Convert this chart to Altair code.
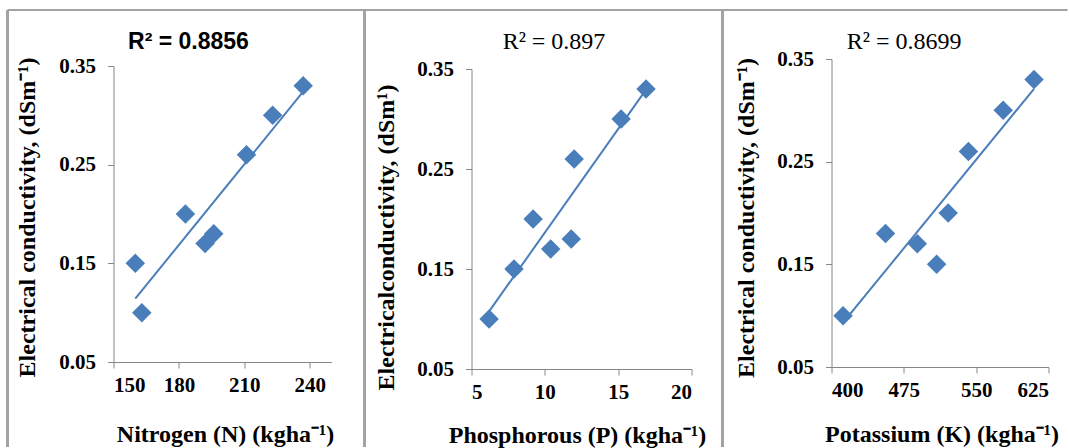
import altair as alt
import pandas as pd

# ---- data ----
ec_values = [0.10, 0.15, 0.17, 0.18, 0.20, 0.26, 0.30, 0.33]
nitrogen = [163, 160, 192, 196, 183, 211, 223, 237]
phosphorous = [6.2, 7.9, 10.4, 11.8, 9.2, 12.0, 15.2, 16.9]
potassium = [412, 509, 489, 456, 521, 542, 578, 610]

y_ticks = [0.05, 0.15, 0.25, 0.35]
n_ticks = [150, 180, 210, 240]
p_ticks = [5, 10, 15, 20]
k_ticks = [400, 475, 550, 625]

r2_labels = ["R² = 0.8856", "R² = 0.897", "R² = 0.8699"]
x_titles = ["Nitrogen (N) (kgha⁻¹)", "Phosphorous (P) (kgha⁻¹)", "Potassium (K) (kgha⁻¹)"]
y_titles = ["Electrical conductivity, (dSm⁻¹)", "Electricalconductivity, (dSm¹)",
            "Electrical conductivity, (dSm⁻¹)"]

df = pd.DataFrame({"ec": ec_values, "N": nitrogen, "P": phosphorous, "K": potassium})
one = pd.DataFrame({"k": [0]})

BLUE = "#4A7EBB"
FRAME = "#a3a3a3"
SERIF = "Liberation Serif"
H = 303


def panel(col, ticks, domain, width, yrange, xoff, xtitle, ytitle, ytx, yty, xtx, xty,
          r2, r2x, r2font, r2weight, r2size, extra=()):
    xenc = alt.X(f"{col}:Q",
                 scale=alt.Scale(domain=domain, nice=False, zero=False),
                 axis=alt.Axis(values=ticks, title=xtitle, offset=xoff, titleX=xtx, titleY=xty,
                               titleBaseline="alphabetic", format="d"))
    yenc = alt.Y("ec:Q",
                 scale=alt.Scale(domain=[0.05, 0.35], range=yrange, nice=False, zero=False),
                 axis=alt.Axis(values=y_ticks, format=".2f", title=ytitle, titleX=ytx, titleY=yty,
                               titleBaseline="alphabetic"))
    base = alt.Chart(df)
    line = base.transform_regression(col, "ec").mark_line(
        color=BLUE, strokeWidth=2).encode(x=xenc, y=yenc)
    pts = base.mark_point(shape="diamond", filled=True, size=380, color=BLUE,
                          opacity=1, strokeWidth=0).encode(x=xenc, y=yenc)
    label = alt.Chart(one).mark_text(
        text=r2, font=r2font, fontSize=r2size, fontWeight=r2weight, align="center",
        baseline="alphabetic", color="black").encode(x=alt.value(r2x), y=alt.value(-10))
    return alt.layer(*extra, line, pts, label).properties(width=width, height=H)


def rule(**enc):
    return alt.Chart(one).mark_rule(color=FRAME, strokeWidth=enc.pop("sw", 2)).encode(**enc)


frame = [
    rule(x=alt.value(-106), y=alt.value(-49), y2=alt.value(388), sw=3),
    rule(x=alt.value(-106), x2=alt.value(954), y=alt.value(-49), sw=2),
    rule(x=alt.value(251), y=alt.value(-49), y2=alt.value(388), sw=3),
    rule(x=alt.value(609), y=alt.value(-49), y2=alt.value(388), sw=3),
]

p1 = panel("N", n_ticks, [150, 250], 218, [303, 7], 0, x_titles[0], y_titles[0],
           -79.5, 158, 111.5, 79, r2_labels[0], 75, "Liberation Sans", "bold", 23, extra=frame)
p2 = panel("P", p_ticks, [5, 20], 220, [310, 10], 7, x_titles[1], y_titles[1],
           -78, 178, 105.5, 73, r2_labels[1], 82.5, SERIF, "normal", 24)
p3 = panel("K", k_ticks, [400, 625], 217, [308, 0], 5, x_titles[2], y_titles[2],
           -78, 158.5, 110, 74, r2_labels[2], 72.7, SERIF, "normal", 24)

chart = alt.hconcat(p1, p2, p3, spacing=140, bounds="flush").configure_axis(
    grid=False,
    domainColor="#868686",
    domainWidth=1,
    tickColor="#868686",
    tickSize=6,
    labelFont=SERIF,
    labelFontSize=21,
    labelFontWeight="bold",
    labelColor="black",
    labelPadding=12,
    titleFont=SERIF,
    titleFontSize=24,
    titleFontWeight="bold",
    titleColor="black",
).configure_axisX(labelPadding=6).configure_view(stroke=None).properties(
    padding={"left": 5.5, "top": 8, "right": 0, "bottom": 0},
    background="white",
)

chart.save("out.html", embed_options={"renderer": "svg", "actions": False})
